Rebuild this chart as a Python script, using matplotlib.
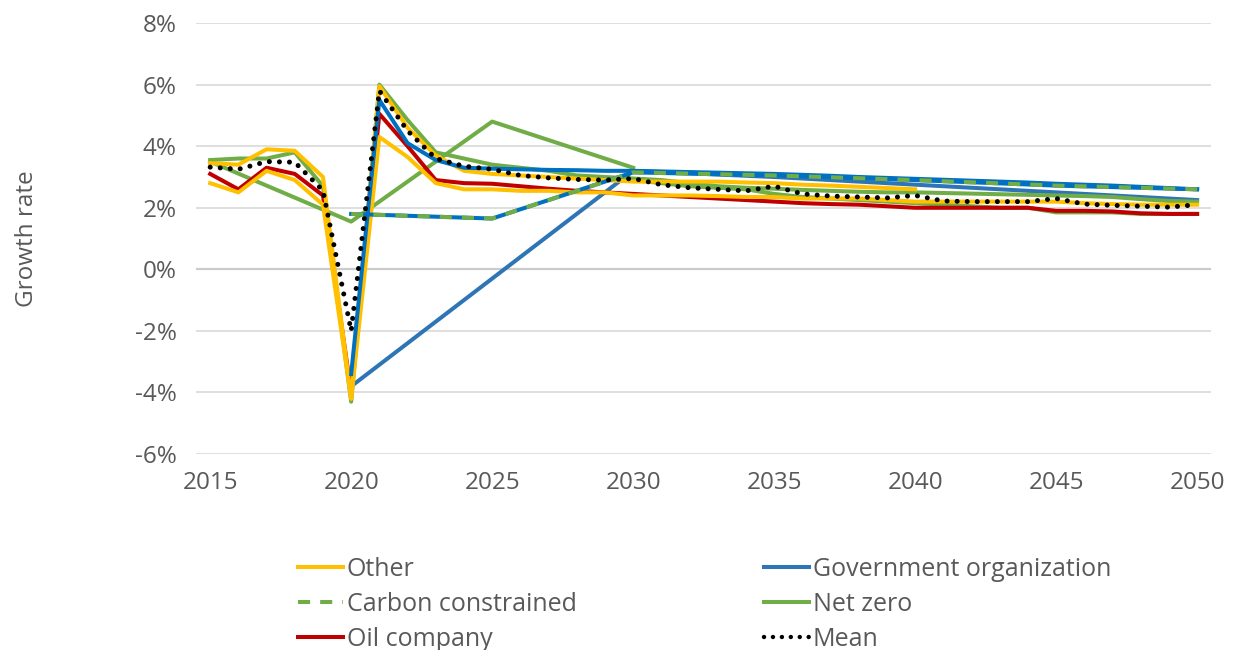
import matplotlib.pyplot as plt
from matplotlib.lines import Line2D

# Years
years = list(range(2015, 2051))
years_to_2040 = list(range(2015, 2041))
years_from_2020 = list(range(2020, 2051))
years_from_2030 = list(range(2030, 2051))
five_years_2015 = [2015, 2020, 2025, 2030]
five_years_2020 = [2020, 2025, 2030, 2035, 2040, 2045, 2050]

# Growth rates (%)
other_low = [2.8, 2.5, 3.2, 2.9, 2.1, -4.2, 4.3, 3.65, 2.8, 2.6, 2.6, 2.55, 2.55, 2.5, 2.5,
             2.4, 2.4, 2.4, 2.38, 2.35, 2.35, 2.3, 2.3, 2.3, 2.25, 2.2, 2.2, 2.2, 2.2, 2.2,
             2.2, 2.15, 2.12, 2.1, 2.1, 2.1]
other_high = [3.45, 3.4, 3.9, 3.85, 3.0, -4.2, 5.95, 4.6, 3.7, 3.2, 3.1, 3.05, 3.0, 2.95,
              2.9, 2.85, 2.85, 2.85, 2.85, 2.82, 2.8, 2.75, 2.72, 2.68, 2.64, 2.6]
oil_company = [3.1, 2.6, 3.3, 3.1, 2.4, -4.0, 5.05, 4.0, 2.9, 2.8, 2.78, 2.7, 2.62, 2.55,
               2.5, 2.45, 2.4, 2.35, 2.3, 2.25, 2.2, 2.15, 2.12, 2.1, 2.05, 2.0, 2.0, 2.0,
               2.0, 2.0, 1.9, 1.9, 1.88, 1.82, 1.8, 1.8]
net_zero_a = [3.55, 3.6, 3.6, 3.8, 2.7, -4.3, 6.0, 4.85, 3.8, 3.6, 3.4, 3.3, 3.2, 3.05,
              3.0, 2.95, 2.9, 2.8, 2.7, 2.65, 2.62, 2.58, 2.55, 2.52, 2.5, 2.5, 2.48, 2.46,
              2.44, 2.42, 2.4, 2.38, 2.35, 2.28, 2.22, 2.2]
net_zero_5yr = [3.5, 1.55, 4.8, 3.3]
net_zero_c = [2.9, 2.8, 2.7, 2.65, 2.6, 2.45, 2.35, 2.3, 2.25, 2.2, 2.15, 2.1, 2.05, 2.0,
              2.0, 1.85, 1.85, 1.85, 1.8, 1.8, 1.8]
gov_annual = [-3.4, 5.5, 4.1, 3.55, 3.3, 3.27, 3.25, 3.23, 3.22, 3.2, 3.2, 3.18, 3.16,
              3.14, 3.12, 3.1, 3.07, 3.04, 3.0, 2.97, 2.94, 2.91, 2.88, 2.85, 2.82, 2.78,
              2.75, 2.72, 2.68, 2.64, 2.6]
gov_5yr = [-3.8, -0.3, 3.2, 3.0, 2.75, 2.5, 2.25]
carbon_constrained = [1.8, 1.65, 3.15, 3.05, 2.9, 2.72, 2.6]
mean = [3.32, 3.25, 3.5, 3.48, 2.56, -2.0, 5.8, 4.5, 3.6, 3.35, 3.25, 3.05, 2.97, 2.92,
        2.9, 2.95, 2.75, 2.65, 2.6, 2.55, 2.7, 2.45, 2.38, 2.35, 2.32, 2.4, 2.22, 2.2,
        2.2, 2.2, 2.3, 2.12, 2.08, 2.05, 2.02, 2.1]

yticks = [-6, -4, -2, 0, 2, 4, 6, 8]
xticks = [2015, 2020, 2025, 2030, 2035, 2040, 2045, 2050]

YELLOW = '#FFC000'
BLUE = '#2E75B6'
BLUE_DARK = '#0070C0'
GREEN = '#70AD47'
RED = '#C00000'
GRAY = '#595959'

plt.rcParams['font.family'] = ['Open Sans', 'DejaVu Sans']

fig = plt.figure(figsize=(12.41, 6.5), dpi=100)
ax = fig.add_axes([0.158, 0.3015, 0.818, 0.663])

lw = 2.9
ax.plot(five_years_2020, gov_5yr, color=BLUE, lw=lw, zorder=3)
ax.plot(five_years_2015, net_zero_5yr, color=GREEN, lw=lw, zorder=3)
ax.plot(years_from_2030, net_zero_c, color=GREEN, lw=lw, zorder=3)
ax.plot(years, net_zero_a, color=GREEN, lw=lw, zorder=3)
ax.plot(years, oil_company, color=RED, lw=lw, zorder=4)
ax.plot(years, other_low, color=YELLOW, lw=lw, zorder=4)
ax.plot(years_to_2040, other_high, color=YELLOW, lw=lw, zorder=4)
ax.plot(years_from_2020, gov_annual, color=BLUE_DARK, lw=lw, zorder=5)
ax.plot(five_years_2020, carbon_constrained, color=BLUE_DARK, lw=lw, zorder=5)
ax.plot(five_years_2020, carbon_constrained, color=GREEN, lw=lw, dashes=(3, 2.5), zorder=6)
ax.plot(years, mean, color='black', lw=3.6, linestyle=(0, (0.01, 2.0)),
        dash_capstyle='round', zorder=7)

ax.set_xlim(2014.5, 2050.5)
ax.set_ylim(-6, 8)
ax.set_yticks(yticks)
ax.set_yticklabels([f'{t}%' for t in yticks])
ax.set_xticks(xticks)
ax.tick_params(length=0, labelsize=17.5, labelcolor=GRAY)
ax.tick_params(axis='y', pad=14)
ax.tick_params(axis='x', pad=12)
ax.grid(axis='y', color='#D9D9D9', lw=1.2, zorder=0)
ax.axhline(0, color='#868686', lw=1.5, zorder=1)
for s in ax.spines.values():
    s.set_visible(False)
ax.set_ylabel('Growth rate', fontsize=17.5, color=GRAY)
ax.yaxis.set_label_coords(-0.155, 0.5)

handles = [
    Line2D([], [], color=YELLOW, lw=lw),
    Line2D([], [], color=GREEN, lw=lw, dashes=(3, 2.5)),
    Line2D([], [], color=RED, lw=lw),
    Line2D([], [], color=BLUE, lw=lw),
    Line2D([], [], color=GREEN, lw=lw),
    Line2D([], [], color='black', lw=3.2, linestyle=(0, (0.01, 2.0)), dash_capstyle='round'),
]
labels = ['Other', 'Carbon constrained', 'Oil company',
          'Government organization', 'Net zero', 'Mean']
fig.legend(handles, labels, ncol=2, loc='upper left', bbox_to_anchor=(0.24, 0.143),
           frameon=False, fontsize=18, labelcolor=GRAY, handlelength=1.8,
           handletextpad=0.15, columnspacing=7.5, labelspacing=0.4,
           borderaxespad=0, borderpad=0)

fig.savefig('out.png', dpi=100)
